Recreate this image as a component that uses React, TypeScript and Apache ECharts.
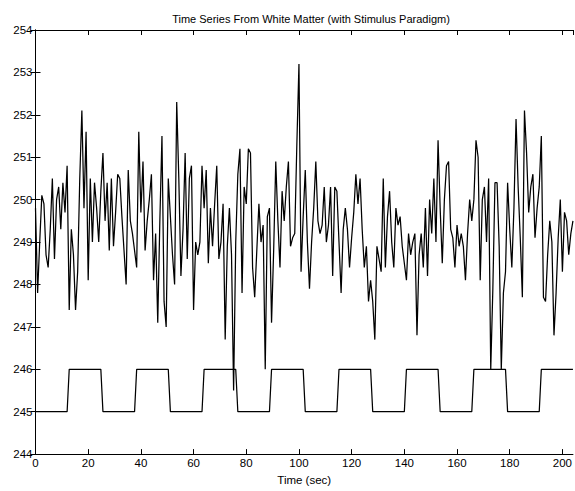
import React, { useEffect, useRef } from "react";
import * as echarts from "echarts";

const TITLE = "Time Series From White Matter (with Stimulus Paradigm)";
const X_NAME = "Time (sec)";
const SAMPLE_INTERVAL = 0.8; // seconds between samples

// white-matter signal, one value per sample
const whiteMatter = [
  249.8, 247.8, 249.0, 250.1, 249.9, 248.7, 248.4, 249.3, 250.5, 248.6,
  250.0, 250.3, 249.3, 250.4, 249.7, 250.8, 247.4, 249.3, 248.7, 247.4,
  248.3, 250.5, 252.1, 249.8, 251.6, 248.1, 250.5, 249.0, 250.4, 249.8,
  249.0, 250.2, 251.1, 249.5, 250.4, 248.8, 250.5, 248.9, 249.7, 250.6,
  250.5, 249.6, 248.8, 248.0, 250.7, 249.5, 249.2, 248.8, 248.4, 251.6,
  249.7, 250.9, 248.8, 249.5, 250.0, 250.6, 248.1, 249.2, 247.1, 249.5,
  251.5, 247.6, 247.0, 250.5, 249.6, 248.7, 248.0, 252.3, 250.5, 248.2,
  249.3, 251.1, 248.6, 250.5, 250.8, 247.4, 249.0, 248.7, 249.0, 250.8,
  249.8, 250.7, 248.5, 249.8, 248.9, 249.9, 250.8, 248.6, 249.0, 249.9,
  246.7, 248.9, 249.8, 248.7, 245.5, 249.0, 250.6, 251.2, 247.8, 250.3,
  249.9, 251.2, 251.1, 248.4, 247.7, 248.8, 249.9, 249.0, 249.4, 246.0,
  249.6, 249.8, 247.1, 248.8, 250.9, 249.5, 248.4, 250.2, 249.5, 250.3,
  250.9, 248.9, 249.1, 249.2, 251.3, 253.2, 248.3, 249.6, 250.7, 249.0,
  247.9, 249.0, 249.8, 250.9, 249.5, 249.2, 249.4, 250.3, 249.0, 249.4,
  250.3, 248.2, 250.3, 250.2, 249.0, 247.8, 249.3, 249.8, 249.3, 248.4,
  249.1, 249.7, 250.6, 249.9, 250.5, 249.3, 248.4, 248.9, 247.6, 248.1,
  247.6, 246.7, 248.9, 248.6, 248.3, 250.5, 248.4, 249.6, 250.2, 249.0,
  248.4, 249.8, 249.4, 249.6, 248.9, 248.5, 248.1, 249.2, 248.7, 249.0,
  249.2, 246.8, 248.7, 249.2, 248.4, 249.8, 248.2, 250.0, 249.2, 250.5,
  249.0, 251.4, 249.8, 248.5, 250.0, 250.8, 250.9, 249.3, 249.1, 248.4,
  249.4, 248.9, 249.2, 248.9, 248.1, 249.2, 250.0, 249.5, 250.0, 251.4,
  251.0, 248.1, 250.0, 250.3, 249.0, 250.5, 246.0, 247.9, 250.4, 250.4,
  248.9, 246.0, 247.8, 248.3, 250.4, 249.3, 248.4, 249.8, 251.9, 250.3,
  249.1, 247.7, 252.1, 251.1, 249.7, 250.3, 250.6, 249.1, 249.8, 250.3,
  251.5, 247.7, 247.6, 248.7, 249.5, 249.0, 246.8, 247.8, 249.1, 250.0,
  248.3, 249.7, 249.5, 248.7, 249.2, 249.5,
];

// stimulus paradigm (boxcar) corner points
const stimulusTimes = [
  0, 12.0, 12.8, 24.8, 25.6, 37.6, 38.4, 50.4, 51.2, 63.2, 64.0, 76.0, 76.8,
  88.8, 89.6, 101.6, 102.4, 114.4, 115.2, 127.2, 128.0, 140.0, 140.8, 152.8,
  153.6, 165.6, 166.4, 178.4, 179.2, 191.2, 192.0, 204.0,
];
const stimulusLevels = [
  245, 245, 246, 246, 245, 245, 246, 246, 245, 245, 246, 246, 245,
  245, 246, 246, 245, 245, 246, 246, 245, 245, 246, 246,
  245, 245, 246, 246, 245, 245, 246, 246,
];

const X_MIN = 0;
const X_MAX = 204;
const X_STEP = 20;
const X_LAST_LABEL = 200;
const Y_MIN = 244;
const Y_MAX = 254;
const Y_STEP = 1;

const FONT = "'Liberation Sans', Arial, Helvetica, sans-serif";

export default function App() {
  const ref = useRef<HTMLDivElement>(null);

  useEffect(() => {
    if (!ref.current) return;
    const chart = echarts.init(ref.current, null, { renderer: "svg" });

    const signalData = whiteMatter.map((v, i) => [i * SAMPLE_INTERVAL, v]);
    const stimData = stimulusTimes.map((t, i) => [t, stimulusLevels[i]]);

    const axisLine = { show: true, lineStyle: { color: "#000", width: 1 } };
    const tick = { show: true, inside: true, length: 5, lineStyle: { color: "#000", width: 1 } };
    const xFmt = (v: number) => (v % X_STEP === 0 && v <= X_LAST_LABEL ? String(v) : "");

    chart.setOption({
      animation: false,
      backgroundColor: "#fff",
      textStyle: { fontFamily: FONT },
      title: {
        text: TITLE,
        left: 306,
        top: 8,
        textAlign: "center",
        textStyle: { fontFamily: FONT, fontSize: 11, fontWeight: "normal", color: "#000" },
      },
      grid: { left: 35.5, top: 30, width: 541, height: 430.4, containLabel: false },
      xAxis: [
        {
          type: "value",
          min: X_MIN,
          max: X_MAX,
          interval: X_STEP,
          position: "bottom",
          axisLine,
          axisTick: tick,
          splitLine: { show: false },
          axisLabel: {
            formatter: xFmt,
            showMaxLabel: false,
            margin: 3,
            color: "#000",
            fontFamily: FONT,
            fontSize: 11.5,
          },
          name: X_NAME,
          nameLocation: "middle",
          nameGap: 18,
          nameTextStyle: { color: "#000", fontFamily: FONT, fontSize: 11.5 },
        },
        {
          type: "value",
          min: X_MIN,
          max: X_MAX,
          interval: X_STEP,
          position: "top",
          axisLine,
          axisTick: tick,
          splitLine: { show: false },
          axisLabel: { show: false },
        },
      ],
      yAxis: [
        {
          type: "value",
          min: Y_MIN,
          max: Y_MAX,
          interval: Y_STEP,
          position: "left",
          axisLine,
          axisTick: tick,
          splitLine: { show: false },
          axisLabel: { margin: 3, color: "#000", fontFamily: FONT, fontSize: 11.5 },
        },
        {
          type: "value",
          min: Y_MIN,
          max: Y_MAX,
          interval: Y_STEP,
          position: "right",
          axisLine,
          axisTick: tick,
          splitLine: { show: false },
          axisLabel: { show: false },
        },
      ],
      series: [
        {
          type: "line",
          data: signalData,
          showSymbol: false,
          symbol: "none",
          silent: true,
          lineStyle: { color: "#000", width: 1.25 },
        },
        {
          type: "line",
          data: stimData,
          showSymbol: false,
          symbol: "none",
          silent: true,
          lineStyle: { color: "#000", width: 1.25 },
        },
      ],
    });

    return () => chart.dispose();
  }, []);

  return (
    <div
      ref={ref}
      style={{ position: "fixed", left: 0, top: 0, width: 575, height: 491, background: "#fff" }}
    />
  );
}
